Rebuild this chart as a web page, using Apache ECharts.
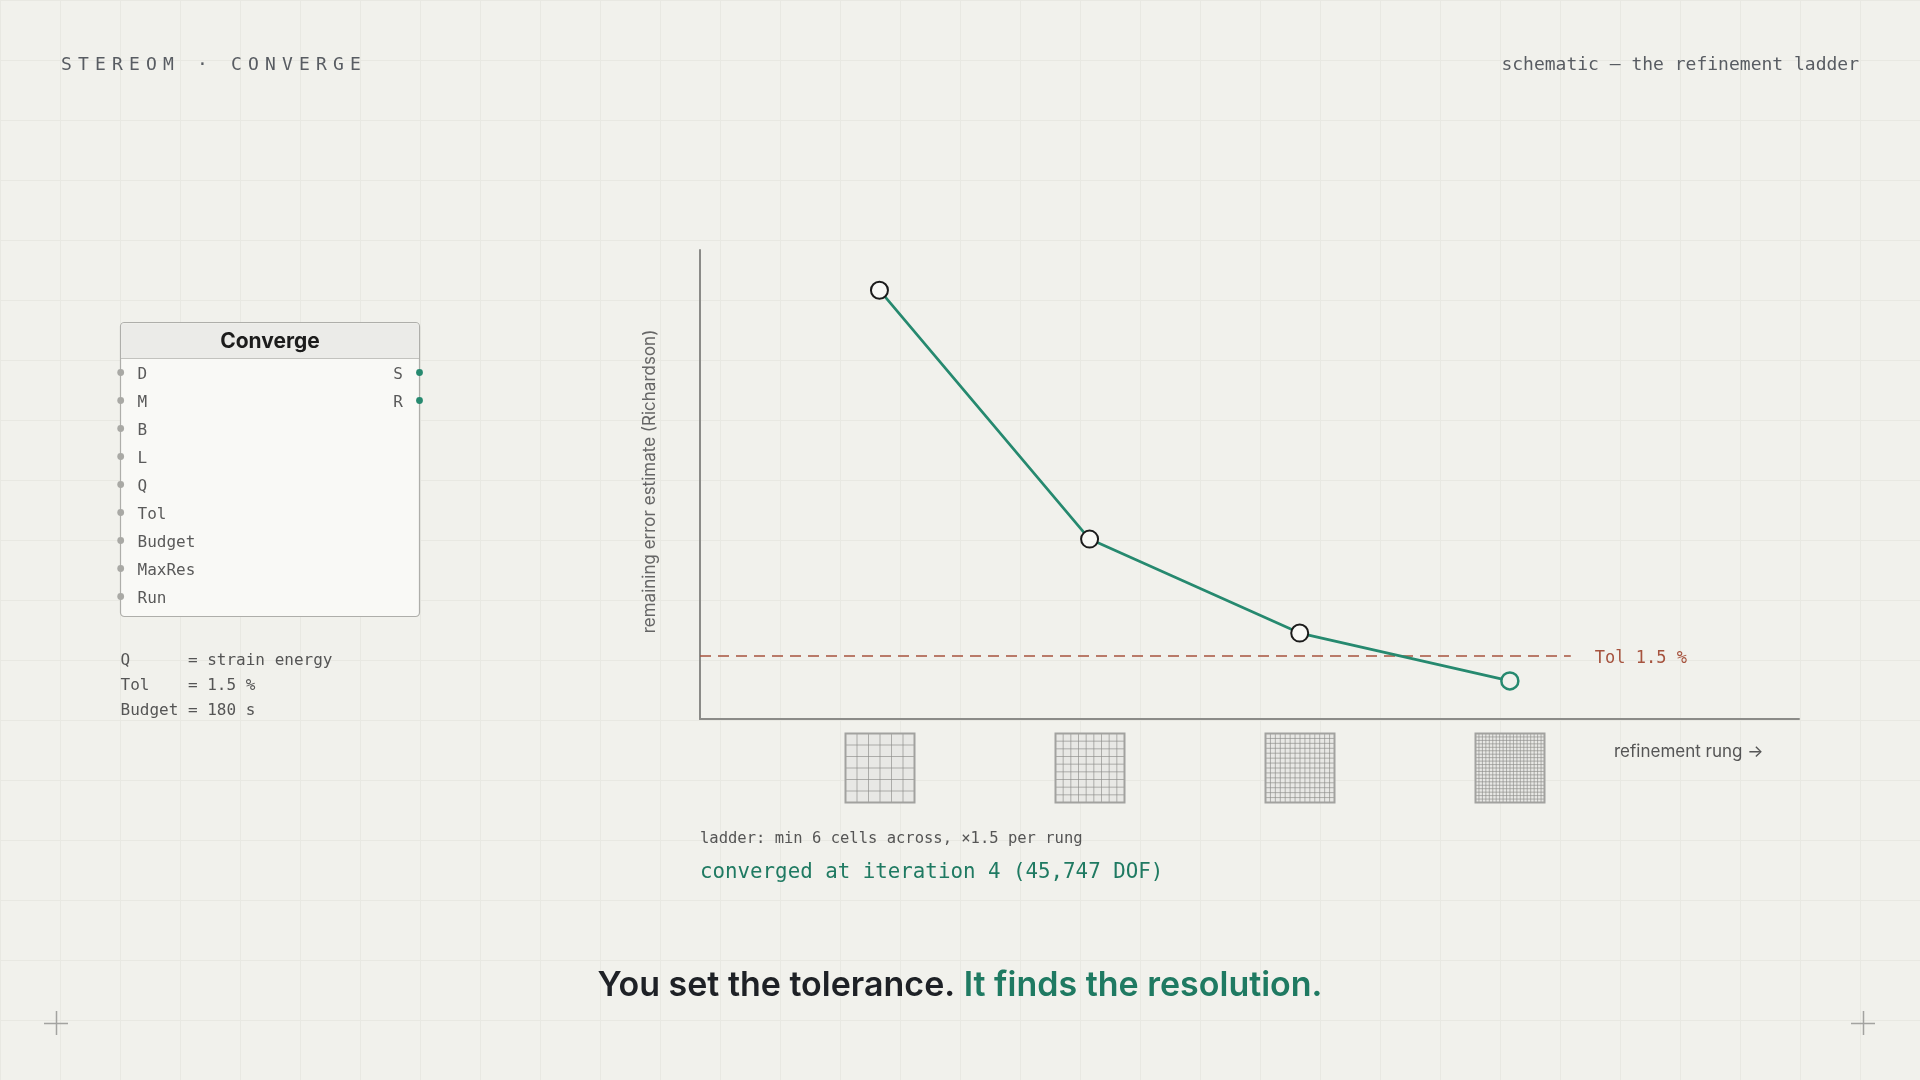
<!DOCTYPE html>
<html>
<head>
<meta charset="utf-8">
<script src="https://cdn.jsdelivr.net/npm/echarts@6/dist/echarts.min.js"></script>
<style>
  html, body { margin: 0; padding: 0; background: #f1f1ec; }
  #chart { width: 1920px; height: 1080px; }
</style>
</head>
<body>
<div id="chart"></div>
<script>
// ---------- data ----------
const rungs = [1, 2, 3, 4];
const errorPct = [10.13, 4.25, 2.03, 0.90];
const cellsAcross = [6, 9, 14, 20];
const tolPct = 1.5;
const inputPorts = ['D', 'M', 'B', 'L', 'Q', 'Tol', 'Budget', 'MaxRes', 'Run'];
const outputPorts = ['S', 'R'];
const paramLines = ['Q      = strain energy', 'Tol    = 1.5 %', 'Budget = 180 s'];
const headerLeft = 'STEREOM · CONVERGE';
const headerRight = 'schematic — the refinement ladder';
const yAxisName = 'remaining error estimate (Richardson)';
const xAxisName = 'refinement rung →';
const ladderNote = 'ladder: min 6 cells across, ×1.5 per rung';
const convergedNote = 'converged at iteration 4 (45,747 DOF)';
const taglineA = 'You set the tolerance.';
const taglineB = 'It finds the resolution.';

// ---------- style ----------
const MONO = '"DejaVu Sans Mono", "Liberation Mono", monospace';
const SANS = 'Inter, "Noto Sans", sans-serif';
const GREEN = '#26896f';
const GREEN_TXT = '#1f7a62';
const BG = '#f1f1ec';
const GRIDLINE = '#e8e8e2';
const TOL_RED = '#a6533e';

const xMin = 0.146, xMax = 5.376, yMin = 0, yMax = 11.08;

const chart = echarts.init(document.getElementById('chart'), null, { renderer: 'canvas' });

const graphics = [];
// background grid
for (let x = 0; x <= 1920; x += 60) {
  graphics.push({ type: 'line', silent: true, z: -10, shape: { x1: x + 0.5, y1: 0, x2: x + 0.5, y2: 1080 }, style: { stroke: GRIDLINE, lineWidth: 1 } });
}
for (let y = 0; y <= 1080; y += 60) {
  graphics.push({ type: 'line', silent: true, z: -10, shape: { x1: 0, y1: y + 0.5, x2: 1920, y2: y + 0.5 }, style: { stroke: GRIDLINE, lineWidth: 1 } });
}
// corner crosses
[[56, 1023], [1863, 1023]].forEach(function (c) {
  graphics.push({ type: 'line', silent: true, shape: { x1: c[0] - 12, y1: c[1] + 0.5, x2: c[0] + 12, y2: c[1] + 0.5 }, style: { stroke: '#a3a3a0', lineWidth: 1.5 } });
  graphics.push({ type: 'line', silent: true, shape: { x1: c[0] + 0.5, y1: c[1] - 12, x2: c[0] + 0.5, y2: c[1] + 12 }, style: { stroke: '#a3a3a0', lineWidth: 1.5 } });
});
// header left (letter-spaced)
headerLeft.split('').forEach(function (ch, i) {
  graphics.push({ type: 'text', silent: true, x: 61 + i * 17.0, y: 65.5, style: { text: ch, font: '18px ' + MONO, fill: '#585c62', align: 'left', verticalAlign: 'middle' } });
});
// header right
graphics.push({ type: 'text', silent: true, x: 1859, y: 65.5, style: { text: headerRight, font: '18px ' + MONO, fill: '#585c62', align: 'right', verticalAlign: 'middle' } });

// node box
graphics.push({ type: 'rect', silent: true, shape: { x: 120.5, y: 322.5, width: 299, height: 294, r: 4 }, style: { fill: '#f9f9f6', stroke: '#aeaeaa', lineWidth: 1.2 } });
graphics.push({ type: 'rect', silent: true, shape: { x: 121.2, y: 323.2, width: 297.6, height: 35, r: [3, 3, 0, 0] }, style: { fill: '#ebebe8' } });
graphics.push({ type: 'line', silent: true, shape: { x1: 121, y1: 358.5, x2: 419, y2: 358.5 }, style: { stroke: '#c2c2be', lineWidth: 1 } });
graphics.push({ type: 'text', silent: true, x: 270, y: 342, style: { text: 'Converge', font: '700 21px ' + SANS, fill: '#1c1c1c', align: 'center', verticalAlign: 'middle' } });
inputPorts.forEach(function (p, i) {
  const y = 372.5 + i * 28;
  graphics.push({ type: 'circle', silent: true, shape: { cx: 120.7, cy: y, r: 3.4 }, style: { fill: '#a9a9a5' } });
  graphics.push({ type: 'text', silent: true, x: 137.5, y: y + 2, style: { text: p, font: '16px ' + MONO, fill: '#5a5a5a', align: 'left', verticalAlign: 'middle' } });
});
outputPorts.forEach(function (p, i) {
  const y = 372.5 + i * 28;
  graphics.push({ type: 'circle', silent: true, shape: { cx: 419.5, cy: y, r: 3.4 }, style: { fill: GREEN } });
  graphics.push({ type: 'text', silent: true, x: 403, y: y + 2, style: { text: p, font: '16px ' + MONO, fill: '#5a5a5a', align: 'right', verticalAlign: 'middle' } });
});
paramLines.forEach(function (t, i) {
  graphics.push({ type: 'text', silent: true, x: 120.5, y: 660.5 + i * 25, style: { text: t, font: '16px ' + MONO, fill: '#555555', align: 'left', verticalAlign: 'middle' } });
});
// notes under the chart
graphics.push({ type: 'text', silent: true, x: 1614, y: 752, style: { text: xAxisName, font: '17px ' + SANS, fill: '#555555', align: 'left', verticalAlign: 'middle' } });
graphics.push({ type: 'text', silent: true, x: 700, y: 838.5, style: { text: ladderNote, font: '15.5px ' + MONO, fill: '#555555', align: 'left', verticalAlign: 'middle' } });
graphics.push({ type: 'text', silent: true, x: 700, y: 872.5, style: { text: convergedNote, font: '20.8px ' + MONO, fill: GREEN_TXT, align: 'left', verticalAlign: 'middle' } });
// tagline
graphics.push({
  type: 'text', silent: true, x: 960, y: 985.5,
  style: {
    text: '{a|' + taglineA + ' }{b|' + taglineB + '}',
    align: 'center', verticalAlign: 'middle',
    rich: {
      a: { font: '600 34px ' + SANS, fill: '#1e2126' },
      b: { font: '600 34px ' + SANS, fill: GREEN_TXT }
    }
  }
});

function renderThumb(params, api) {
  const xv = api.value(0);
  const n = api.value(2);
  const base = api.coord([xv, yMin]);
  const size = 69;
  const x0 = Math.round(base[0] - size / 2) + 0.5;
  const y0 = Math.round(base[1] + 14) + 0.5;
  const children = [{ type: 'rect', shape: { x: x0, y: y0, width: size, height: size }, style: { fill: '#e8e8e5' } }];
  for (let k = 1; k < n; k++) {
    const d = size * k / n;
    children.push({ type: 'line', shape: { x1: x0 + d, y1: y0, x2: x0 + d, y2: y0 + size }, style: { stroke: '#8e8e8b', lineWidth: 0.9, opacity: 0.75 } });
    children.push({ type: 'line', shape: { x1: x0, y1: y0 + d, x2: x0 + size, y2: y0 + d }, style: { stroke: '#8e8e8b', lineWidth: 0.9, opacity: 0.75 } });
  }
  children.push({ type: 'rect', shape: { x: x0, y: y0, width: size, height: size }, style: { fill: 'none', stroke: '#a2a29f', lineWidth: 2 } });
  return { type: 'group', children: children };
}

const lineData = rungs.map(function (r, i) {
  const last = i === rungs.length - 1;
  return {
    value: [r, errorPct[i]],
    itemStyle: last ? { color: BG, borderColor: GREEN, borderWidth: 2.5 } : { color: '#f8f8f5', borderColor: '#1b1b1b', borderWidth: 2 }
  };
});

chart.setOption({
  backgroundColor: BG,
  animation: false,
  grid: { left: 700, top: 250, width: 1099, height: 469, containLabel: false },
  xAxis: {
    type: 'value', min: xMin, max: xMax,
    axisLine: { show: true, lineStyle: { color: '#8b8b88', width: 2 } },
    axisTick: { show: false }, axisLabel: { show: false }, splitLine: { show: false }
  },
  yAxis: {
    type: 'value', min: yMin, max: yMax,
    name: yAxisName, nameLocation: 'middle', nameGap: 42,
    nameTextStyle: { fontFamily: SANS, fontSize: 17, color: '#666666', padding: [0, 0, 0, 6] },
    axisLine: { show: true, lineStyle: { color: '#8b8b88', width: 2 } },
    axisTick: { show: false }, axisLabel: { show: false }, splitLine: { show: false }
  },
  graphic: graphics,
  series: [
    {
      type: 'line',
      data: lineData,
      symbol: 'circle',
      symbolSize: 17,
      lineStyle: { color: GREEN, width: 2.7 },
      z: 5,
      silent: true,
      markLine: {
        silent: true,
        symbol: ['none', 'none'],
        lineStyle: { color: TOL_RED, width: 1.6, type: [11, 7] },
        label: {
          show: true, position: 'end', distance: 24,
          formatter: '{t|Tol ' + tolPct + ' %}',
          rich: {
            t: { fontFamily: MONO, fontSize: 17, color: TOL_RED, padding: [6, 0, 0, 0] }
          }
        },
        data: [[{ coord: [xMin, tolPct] }, { coord: [4.29, tolPct] }]]
      }
    },
    {
      type: 'custom',
      data: rungs.map(function (r, i) { return [r, yMin, cellsAcross[i]]; }),
      renderItem: renderThumb,
      clip: false,
      silent: true,
      z: 3
    }
  ]
});
</script>
</body>
</html>
